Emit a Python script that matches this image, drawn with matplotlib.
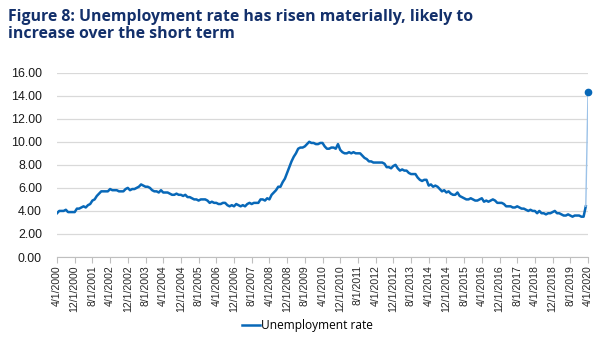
import matplotlib
matplotlib.use("Agg")
import matplotlib.pyplot as plt
import numpy as np

plt.rcParams['font.family'] = ['Open Sans', 'DejaVu Sans']

# Monthly unemployment rate, 4/1/2000 .. 4/1/2020
rate_2000 = [3.8, 4.0, 4.0, 4.0, 4.1, 3.9, 3.9, 3.9, 3.9]
rate_2001 = [4.2, 4.2, 4.3, 4.4, 4.3, 4.5, 4.6, 4.9, 5.0, 5.3, 5.5, 5.7]
rate_2002 = [5.7, 5.7, 5.7, 5.9, 5.8, 5.8, 5.8, 5.7, 5.7, 5.7, 5.9, 6.0]
rate_2003 = [5.8, 5.9, 5.9, 6.0, 6.1, 6.3, 6.2, 6.1, 6.1, 6.0, 5.8, 5.7]
rate_2004 = [5.7, 5.6, 5.8, 5.6, 5.6, 5.6, 5.5, 5.4, 5.4, 5.5, 5.4, 5.4]
rate_2005 = [5.3, 5.4, 5.2, 5.2, 5.1, 5.0, 5.0, 4.9, 5.0, 5.0, 5.0, 4.9]
rate_2006 = [4.7, 4.8, 4.7, 4.7, 4.6, 4.6, 4.7, 4.7, 4.5, 4.4, 4.5, 4.4]
rate_2007 = [4.6, 4.5, 4.4, 4.5, 4.4, 4.6, 4.7, 4.6, 4.7, 4.7, 4.7, 5.0]
rate_2008 = [5.0, 4.9, 5.1, 5.0, 5.4, 5.6, 5.8, 6.1, 6.1, 6.5, 6.8, 7.3]
rate_2009 = [7.8, 8.3, 8.7, 9.0, 9.4, 9.5, 9.5, 9.6, 9.8, 10.0, 9.9, 9.9]
rate_2010 = [9.8, 9.8, 9.9, 9.9, 9.6, 9.4, 9.4, 9.5, 9.5, 9.4, 9.8, 9.3]
rate_2011 = [9.1, 9.0, 9.0, 9.1, 9.0, 9.1, 9.0, 9.0, 9.0, 8.8, 8.6, 8.5]
rate_2012 = [8.3, 8.3, 8.2, 8.2, 8.2, 8.2, 8.2, 8.1, 7.8, 7.8, 7.7, 7.9]
rate_2013 = [8.0, 7.7, 7.5, 7.6, 7.5, 7.5, 7.3, 7.2, 7.2, 7.2, 6.9, 6.7]
rate_2014 = [6.6, 6.7, 6.7, 6.2, 6.3, 6.1, 6.2, 6.1, 5.9, 5.7, 5.8, 5.6]
rate_2015 = [5.7, 5.5, 5.4, 5.4, 5.6, 5.3, 5.2, 5.1, 5.0, 5.0, 5.1, 5.0]
rate_2016 = [4.9, 4.9, 5.0, 5.1, 4.8, 4.9, 4.8, 4.9, 5.0, 4.9, 4.7, 4.7]
rate_2017 = [4.7, 4.6, 4.4, 4.4, 4.4, 4.3, 4.3, 4.4, 4.3, 4.2, 4.2, 4.1]
rate_2018 = [4.0, 4.1, 4.0, 4.0, 3.8, 4.0, 3.8, 3.8, 3.7, 3.8, 3.8, 3.9]
rate_2019 = [4.0, 3.8, 3.8, 3.7, 3.6, 3.6, 3.7, 3.6, 3.5, 3.6, 3.6, 3.6]
rate_2020 = [3.5, 3.5, 4.4]
rate_apr_2020 = 14.3

series = (rate_2000 + rate_2001 + rate_2002 + rate_2003 + rate_2004 + rate_2005 +
          rate_2006 + rate_2007 + rate_2008 + rate_2009 + rate_2010 + rate_2011 +
          rate_2012 + rate_2013 + rate_2014 + rate_2015 + rate_2016 + rate_2017 +
          rate_2018 + rate_2019 + rate_2020)

start_year, start_month = 2000, 4
tick_step = 8
y_ticks = [0, 2, 4, 6, 8, 10, 12, 14, 16]

n = len(series)
x = np.arange(n)
x_last = n

def label_for(i):
    m = start_month - 1 + i
    return f"{m % 12 + 1}/1/{start_year + m // 12}"

tick_pos = list(range(0, x_last + 1, tick_step))
tick_labels = [label_for(i) for i in tick_pos]

blue = '#0868b8'
axis_font = ['Liberation Sans', 'DejaVu Sans']
fig = plt.figure(figsize=(6, 3.42), dpi=100)
ax = fig.add_axes([0.095, 0.2485, 0.885, 0.539])

line, = ax.plot(x, series, color=blue, lw=1.8, solid_joinstyle='round', label='Unemployment rate')
ax.plot([x[-1], x_last], [series[-1], rate_apr_2020], color='#9cc2e8', lw=1.0)
ax.plot([x_last], [rate_apr_2020], 'o', color=blue, ms=4.5, clip_on=False, zorder=5)

ax.set_xlim(0, x_last)
ax.set_ylim(0, 16)
ax.set_yticks(y_ticks)
ax.set_yticklabels([f"{v:.2f}" for v in y_ticks], fontsize=8.9, color='#1a1a1a', family=axis_font)
ax.set_xticks(tick_pos)
ax.set_xticklabels(tick_labels, rotation=90, fontsize=7.6, color='#262626', family=axis_font)
ax.tick_params(axis='y', length=0, pad=10.8)
ax.tick_params(axis='x', length=4, color='#bfbfbf', pad=2)
ax.grid(axis='y', color='#d9d9d9', lw=0.9)
ax.set_axisbelow(True)
for s in ['left', 'right', 'top']:
    ax.spines[s].set_visible(False)
ax.spines['bottom'].set_color('#bfbfbf')

fig.legend(handles=[line], labels=['Unemployment rate'], loc='center', bbox_to_anchor=(0.512, 0.047),
           frameon=False, fontsize=8.6, handlelength=1.5, handletextpad=0.1)

fig.text(0.013, 0.975, "Figure 8: Unemployment rate has risen materially, likely to\nincrease over the short term",
         fontsize=11.4, fontweight='bold', color='#13306b', va='top', ha='left', linespacing=1.15)

fig.savefig('out.png', dpi=100)
